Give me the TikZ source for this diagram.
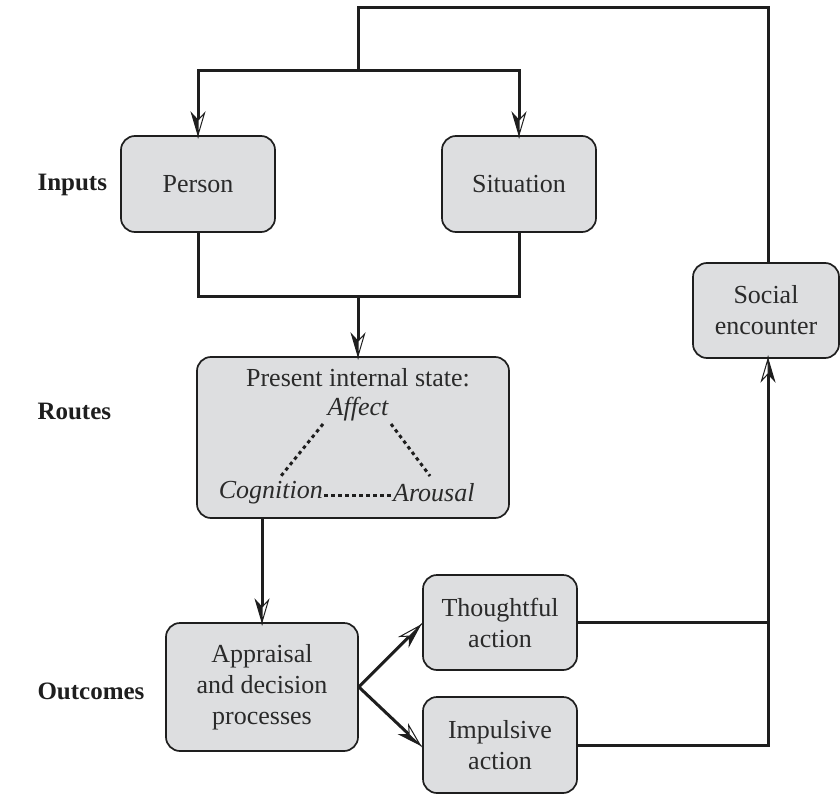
\documentclass[tikz,border=0pt]{standalone}
\usepackage{fontspec}
\setmainfont{Liberation Serif}
\usetikzlibrary{arrows.meta,calc}

% half-filled barbed arrow tip: one side solid, the other open
\pgfdeclarearrow{
  name=HalfBarb,
  setup code={
    \pgfarrowssettipend{0pt}
    \pgfarrowssetlineend{-14pt}
    \pgfarrowssetvisualbackend{-22pt}
    \pgfarrowssetbackend{-22pt}
    \pgfarrowshullpoint{0pt}{0pt}
    \pgfarrowshullpoint{-22pt}{6.5pt}
    \pgfarrowshullpoint{-22pt}{-6.5pt}
  },
  drawing code={
    \pgfsetlinewidth{1pt}
    \pgfsetmiterjoin
    \pgfpathmoveto{\pgfpointorigin}
    \pgfpathlineto{\pgfpoint{-22pt}{-6.5pt}}
    \pgfpathlineto{\pgfpoint{-15pt}{0pt}}
    \pgfpathclose
    \pgfusepathqfillstroke
    \pgfsetfillcolor{white}
    \pgfpathmoveto{\pgfpointorigin}
    \pgfpathlineto{\pgfpoint{-22pt}{6.5pt}}
    \pgfpathlineto{\pgfpoint{-15pt}{0pt}}
    \pgfpathclose
    \pgfusepathqfillstroke
  }
}

\definecolor{boxgray}{HTML}{DDDEE0}
\definecolor{ink}{HTML}{1E1E1E}
\definecolor{textink}{HTML}{2A2A2A}

\tikzset{
  stage/.style={draw=ink, line width=1.7pt, fill=boxgray, rounded corners=14pt,
    align=center, inner sep=0pt, font=\fontsize{26}{31}\selectfont, text=textink},
  rowlabel/.style={anchor=west, font=\fontsize{25}{30}\selectfont\bfseries, text=ink},
  inside/.style={font=\fontsize{26}{31}\selectfont, text=textink, inner sep=1pt},
  link/.style={draw=ink, line width=3pt},
  flow/.style={link, -{HalfBarb}},
  tie/.style={draw=ink, line width=3pt, dash pattern=on 3.5pt off 3.5pt}
}

\begin{document}
\begin{tikzpicture}[x=1pt, y=-1pt]
\useasboundingbox (0,0) rectangle (840,794);

% row labels
\node[rowlabel] (linputs) at (34,185) {Inputs};
\node[rowlabel] (lroutes) at (34,411) {Routes};
\node[rowlabel] (loutcomes) at (34,691) {Outcomes};

% boxes
\node[stage, minimum width=154pt, minimum height=96pt] (person) at (198,184) {Person};
\node[stage, minimum width=154pt, minimum height=96pt] (situation) at (519,184) {Situation};
\node[stage, minimum width=312pt, minimum height=161pt] (state) at (353,437.5) {};
\node[stage, minimum width=192pt, minimum height=128pt] (appraisal) at (262,687) {Appraisal\\and decision\\processes};
\node[stage, minimum width=154pt, minimum height=95pt] (thought) at (500,622.5) {Thoughtful\\action};
\node[stage, minimum width=154pt, minimum height=96pt] (impulse) at (500,745) {Impulsive\\action};
\node[stage, minimum width=146pt, minimum height=95pt] (social) at (766,310.5) {Social\\encounter};

% contents of the internal-state box
\node[inside] (title) at (358,378) {Present internal state:};
\node[inside] (affect) at (358,409) {\itshape Affect};
\node[inside, anchor=east] (cognition) at (324,493) {\itshape Cognition};
\node[inside, anchor=west] (arousal) at (392,493) {\itshape Arousal};

\coordinate (aL) at (323,424);
\coordinate (cT) at (281,476);
\coordinate (aR) at (391,424);
\coordinate (rT) at (430,476);
\draw[tie] (aL) -- (cT);
\draw[tie] (aR) -- (rT);
\draw[tie] ([yshift=-2pt]cognition.east) -- ([yshift=-2pt]arousal.west);

% junction points
\coordinate (split) at (358,71);
\coordinate (loop) at (358,8);
\coordinate (merge) at (358,296);
\coordinate (join) at (768,745);

% feedback loop from the social encounter back to the inputs
\draw[link] (social.north -| join) |- (loop) -- (split);
\draw[flow] (split) -| (person.north);
\draw[flow] (split) -| (situation.north);

% inputs merge into the internal state
\draw[link] (person.south) |- (merge);
\draw[link] (situation.south) |- (merge);
\draw[flow] (merge) -- (merge |- state.north);

% internal state to appraisal
\draw[flow] (state.south -| appraisal.north) -- (appraisal.north);

% appraisal branches
\draw[flow] (appraisal.east) -- ($(thought.west)+(-2,3)$);
\draw[flow] (appraisal.east) -- ($(impulse.west)+(-2,0)$);

% actions feed the social encounter
\draw[link] (thought.east) -- (thought.east -| join);
\draw[flow] (impulse.east) -- (join) -- (join |- social.south);
\end{tikzpicture}
\end{document}
